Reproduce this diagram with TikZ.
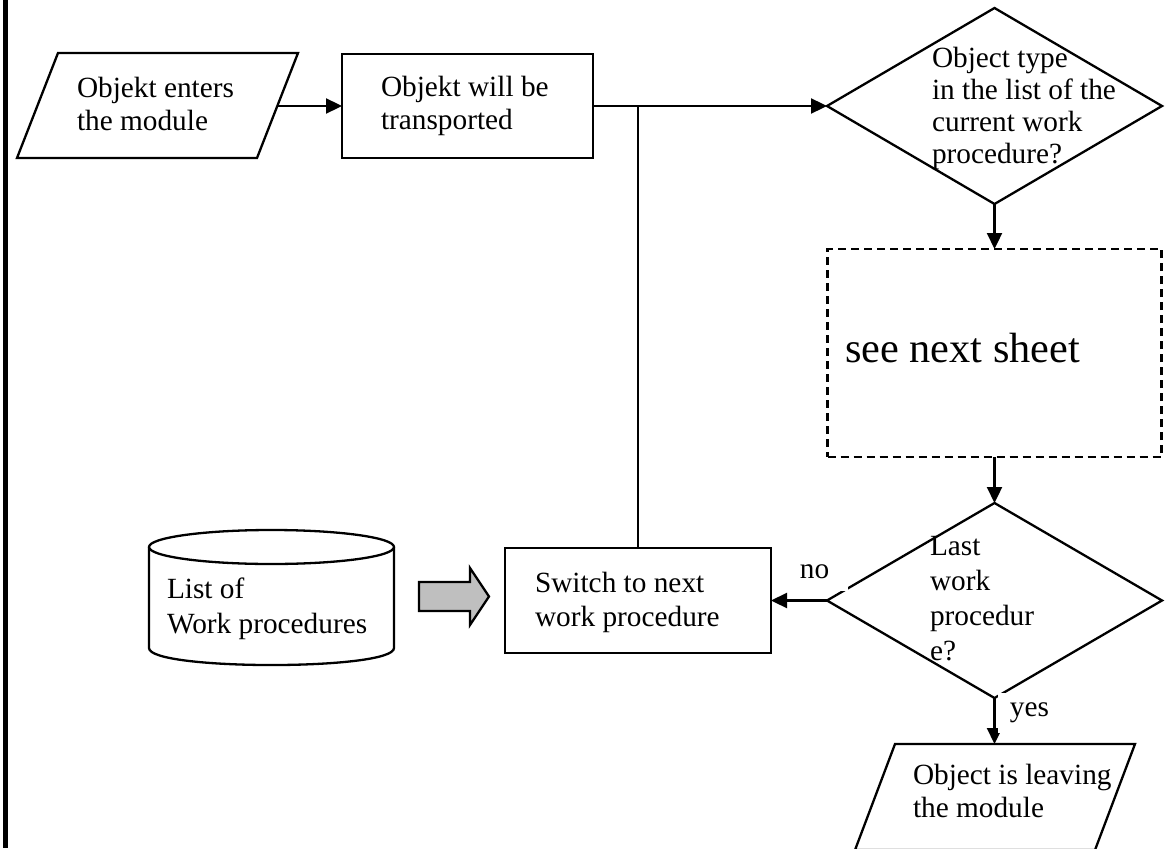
\documentclass[tikz,border=0pt]{standalone}
\usepackage{fontspec}
\setmainfont{Liberation Serif}
\usetikzlibrary{arrows.meta,shapes.geometric}
\begin{document}
\begin{tikzpicture}[x=1pt,y=-1pt,line width=2.3pt,
  every node/.style={inner sep=0pt,outer sep=0pt},
  procbox/.style={draw,rectangle,line width=2.3pt},
  decision/.style={draw,diamond,line width=2.3pt},
  txt/.style={anchor=west,align=left,font=\fontsize{29.3}{#1}\selectfont},
  txt/.default=33,
  flow/.style={-{Triangle[length=16pt,width=15pt]},line width=2.3pt},
  edgelbl/.style={fill=white,font=\fontsize{29.3}{33}\selectfont}]
\clip (0,0) rectangle (1169,848);

% margin bar
\draw[line width=4.7pt] (5.7,0) -- (5.7,848);

% input: object enters
\draw (58,53) -- (298,53) -- (257,158) -- (17,158) -- cycle;
\coordinate (inE) at (277.3,106);
\node[txt] (intxt) at (77,103.5) {Objekt enters\\the module};

% transport step
\node[procbox,minimum width=251pt,minimum height=104pt] (transp) at (467.5,106) {};
\node[txt] (transptxt) at (381,106.4) {Objekt will be\\transported};

% first decision
\node[decision,minimum width=335pt,minimum height=196pt] (q1) at (994.5,106) {};

% placeholder for the next sheet
\node[procbox,dash pattern=on 8pt off 5pt,minimum width=334pt,minimum height=208pt] (sheet) at (994.5,353) {};
\node[anchor=west,font=\fontsize{42.3}{48}\selectfont] (sheettxt) at (845,348.5) {see next sheet};

% second decision
\node[decision,minimum width=335pt,minimum height=195pt] (q2) at (994.5,600.5) {};

% switch step
\node[procbox,minimum width=266pt,minimum height=105pt] (switch) at (638,600.5) {};
\node[txt=34] (switchtxt) at (535,602.9) {Switch to next\\work procedure};

% data store: list of work procedures
\draw (149,547) -- (149,648) .. controls (149,670.7) and (394,670.7) .. (394,648) -- (394,547);
\draw (271.5,547) ellipse [x radius=122.5, y radius=17];
\node[txt=35] (listtxt) at (167,608.7) {List of\\Work procedures};

% block arrow from the store to the switch step
\draw[fill=gray!50] (419,582) -- (470,582) -- (470,568) -- (489,596.5) -- (470,625) -- (470,611) -- (419,611) -- cycle;

% output: object leaves
\draw (895,744) -- (1135,744) -- (1095,850) -- (855,850) -- cycle;
\coordinate (outN) at (994.5,744);
\node[txt] (outtxt) at (913,790.5) {Object is leaving\\the module};

% connectors
\draw[flow] (inE) -- (transp.west);
\draw[flow] (transp.east) -- (q1.west);
\draw (switch.north) -- (switch.north |- transp.east);
\draw[flow] (q1.south) -- (sheet.north);
\draw[flow] (sheet.south) -- (q2.north);
\draw[flow] (q2.west) -- (switch.east);
\draw[flow] (q2.south) -- (outN);

% branch labels
\node[edgelbl,minimum width=58pt,minimum height=38pt] (nolbl) at (819,572) {no\kern9pt};
\node[edgelbl,minimum width=52pt,minimum height=40pt] (yeslbl) at (1024,713) {\kern11pt yes};

% decision texts
\node[txt=32] (q1txt) at (932,108.2) {Object type\\in the list of the\\current work\\procedure?};
\node[txt=35] (q2txt) at (930,598.5) {Last\\work\\procedur\\e?};
\end{tikzpicture}
\end{document}
